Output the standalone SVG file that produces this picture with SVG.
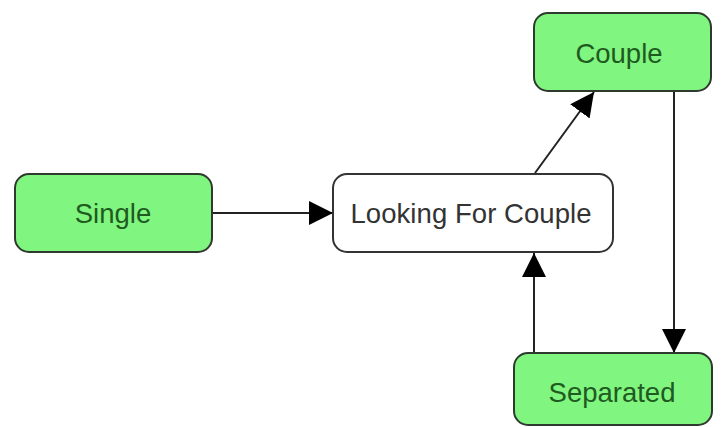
<svg xmlns="http://www.w3.org/2000/svg" width="722" height="427" viewBox="0 0 722 427">
  <style>
    .state { fill: #80f580; stroke: #2e3a2e; stroke-width: 2; }
    .plain { fill: #ffffff; stroke: #333333; stroke-width: 2; }
    .label { font-family: "Liberation Sans", Arial, sans-serif; font-size: 27.5px; text-anchor: middle; }
    .green-text { fill: #1f5a1f; }
    .dark-text { fill: #333333; }
    .edge { fill: none; stroke: #222222; stroke-width: 2; }
  </style>
  <defs>
    <marker id="arrow" markerUnits="userSpaceOnUse" markerWidth="24" markerHeight="24" refX="24" refY="12" orient="auto">
      <path d="M0,0 L24,12 L0,24 z" fill="#000000"/>
    </marker>
  </defs>
  <rect width="722" height="427" fill="#ffffff"/>

  <g id="connectors">
    <line class="edge" x1="212" y1="213" x2="333" y2="213" marker-end="url(#arrow)"/>
    <line class="edge" x1="535" y1="173" x2="594" y2="92" marker-end="url(#arrow)"/>
    <line class="edge" x1="674" y1="91" x2="674" y2="353" marker-end="url(#arrow)"/>
    <line class="edge" x1="534" y1="353" x2="534" y2="253" marker-end="url(#arrow)"/>
  </g>

  <g id="single">
    <rect class="state" x="15" y="174" width="197" height="78" rx="14" ry="14"/>
    <text class="label green-text" x="113" y="223">Single</text>
  </g>

  <g id="looking-for-couple">
    <rect class="plain" x="333" y="174" width="280" height="78" rx="14" ry="14"/>
    <text class="label dark-text" x="471" y="223" textLength="241" lengthAdjust="spacing">Looking For Couple</text>
  </g>

  <g id="couple">
    <rect class="state" x="534" y="13" width="177" height="78" rx="14" ry="14"/>
    <text class="label green-text" x="619" y="63">Couple</text>
  </g>

  <g id="separated">
    <rect class="state" x="514" y="353" width="198" height="72" rx="14" ry="14"/>
    <text class="label green-text" x="612" y="402">Separated</text>
  </g>
</svg>
